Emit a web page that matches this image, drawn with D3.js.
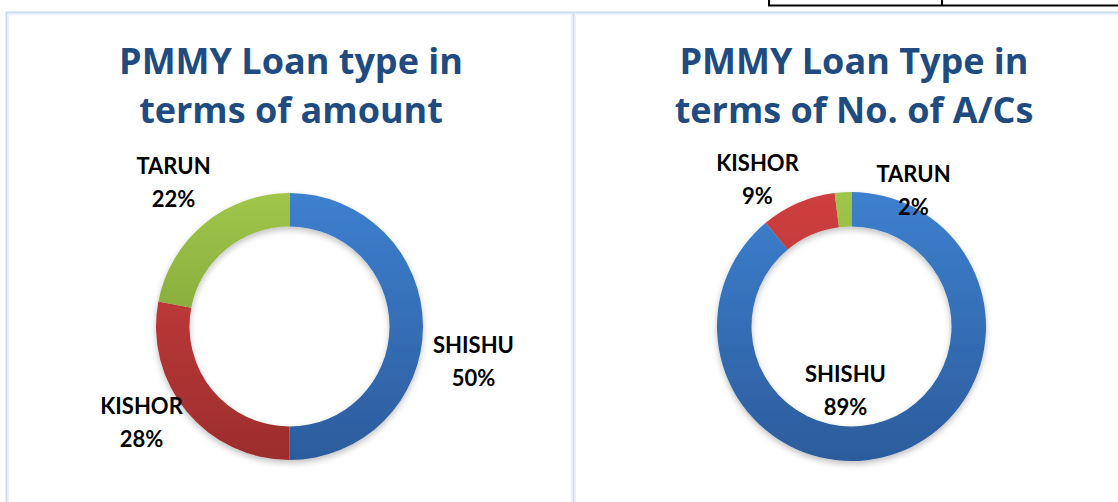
<!DOCTYPE html>
<html>
<head>
<meta charset="utf-8">
<script src="https://cdn.jsdelivr.net/npm/d3@7"></script>
<style>
    body { margin: 0; background: #fff; }
    svg { display: block; }
    .title { font-family: "Open Sans", Lato, sans-serif; font-weight: bold; fill: #204b80; }
    .label { font-family: Lato, "Open Sans", sans-serif; font-weight: bold; fill: #000; }
</style>
</head>
<body>
<div id="chart"></div>
<script>

// categories and values
let categories = ["SHISHU", "KISHOR", "TARUN"];
let amountShare = [50, 28, 22];
let accountShare = [89, 9, 2];

let titleAmount = ["PMMY Loan type in", "terms of amount"];
let titleAccounts = ["PMMY Loan Type in", "terms of No. of A/Cs"];

// slice colours (top, bottom of the gradient)
let colorTop = ["#3d80cf", "#d03f3f", "#a0c64a"];
let colorBottom = ["#2c5c9c", "#9c2d2d", "#6f9030"];

let width = 1118, height = 502;

let svg = d3.select("#chart").append("svg")
    .attr("width", width)
    .attr("height", height);

let defs = svg.append("defs");

// soft shadow under the rings
let shadow = defs.append("filter")
    .attr("id", "ringShadow")
    .attr("x", "-20%").attr("y", "-20%")
    .attr("width", "140%").attr("height", "140%");
shadow.append("feDropShadow")
    .attr("dx", 0).attr("dy", 3)
    .attr("stdDeviation", 3)
    .attr("flood-color", "#000")
    .attr("flood-opacity", 0.25);

// table fragment at the top right
svg.append("path")
    .attr("d", "M769,0 V5.5 H1118 M942,0 V5.5")
    .attr("fill", "none")
    .attr("stroke", "#000")
    .attr("stroke-width", 2);

// panel borders
let border = svg.append("g");
border.append("path")
    .attr("d", "M6.5,502 V12.5 H1118 M573.5,12.5 V502")
    .attr("fill", "none")
    .attr("stroke", "#cddcf0")
    .attr("stroke-width", 2);
border.append("path")
    .attr("d", "M8.5,502 V14.5 H571.5 V502 M575.5,502 V14.5 H1118")
    .attr("fill", "none")
    .attr("stroke", "#eaf1fa")
    .attr("stroke-width", 1);

// one donut chart
function drawDonut(opts) {
    let g = svg.append("g")
        .attr("transform", `translate(${opts.cx}, ${opts.cy})`);

    // title
    let title = svg.append("text")
        .attr("class", "title")
        .attr("text-anchor", "middle")
        .style("font-size", "36px");
    opts.title.forEach((line, i) => {
        title.append("tspan")
            .attr("x", opts.titleX)
            .attr("y", opts.titleY + i * 49)
            .text(line);
    });

    // gradients for this chart
    categories.forEach((c, i) => {
        let grad = defs.append("linearGradient")
            .attr("id", `${opts.id}-grad-${i}`)
            .attr("gradientUnits", "userSpaceOnUse")
            .attr("x1", 0).attr("y1", -opts.outer)
            .attr("x2", 0).attr("y2", opts.outer);
        grad.append("stop").attr("offset", "0%").attr("stop-color", colorTop[i]);
        grad.append("stop").attr("offset", "100%").attr("stop-color", colorBottom[i]);
    });

    let pie = d3.pie()
        .sort(null)
        .value(d => d.value);

    let arc = d3.arc()
        .innerRadius(opts.inner)
        .outerRadius(opts.outer);

    let data = categories.map((c, i) => ({name: c, value: opts.values[i], index: i}));

    g.append("g")
        .attr("filter", "url(#ringShadow)")
        .selectAll("path")
        .data(pie(data))
        .enter()
        .append("path")
        .attr("d", arc)
        .attr("fill", d => `url(#${opts.id}-grad-${d.data.index})`);

    // data labels
    let labels = g.selectAll(".label")
        .data(pie(data))
        .enter()
        .append("text")
        .attr("class", "label")
        .attr("text-anchor", "middle")
        .style("font-size", "22px");

    labels.append("tspan")
        .attr("x", d => opts.labelPos[d.data.index][0])
        .attr("y", d => opts.labelPos[d.data.index][1] - 8)
        .text(d => d.data.name);

    labels.append("tspan")
        .attr("x", d => opts.labelPos[d.data.index][0])
        .attr("y", d => opts.labelPos[d.data.index][1] + 25)
        .text(d => d.data.value + "%");
}

drawDonut({
    id: "amount",
    cx: 289.5, cy: 326.5, outer: 133.5, inner: 100,
    title: titleAmount, titleX: 291, titleY: 74,
    values: amountShare,
    // label anchor relative to the donut centre
    labelPos: [[184, 34], [-148, 95], [-116, -145]]
});

drawDonut({
    id: "accounts",
    cx: 851.5, cy: 326.5, outer: 134.5, inner: 100,
    title: titleAccounts, titleX: 854, titleY: 74,
    values: accountShare,
    labelPos: [[-6, 63], [-94, -148], [62, -137]]
});

</script>
</body>
</html>
